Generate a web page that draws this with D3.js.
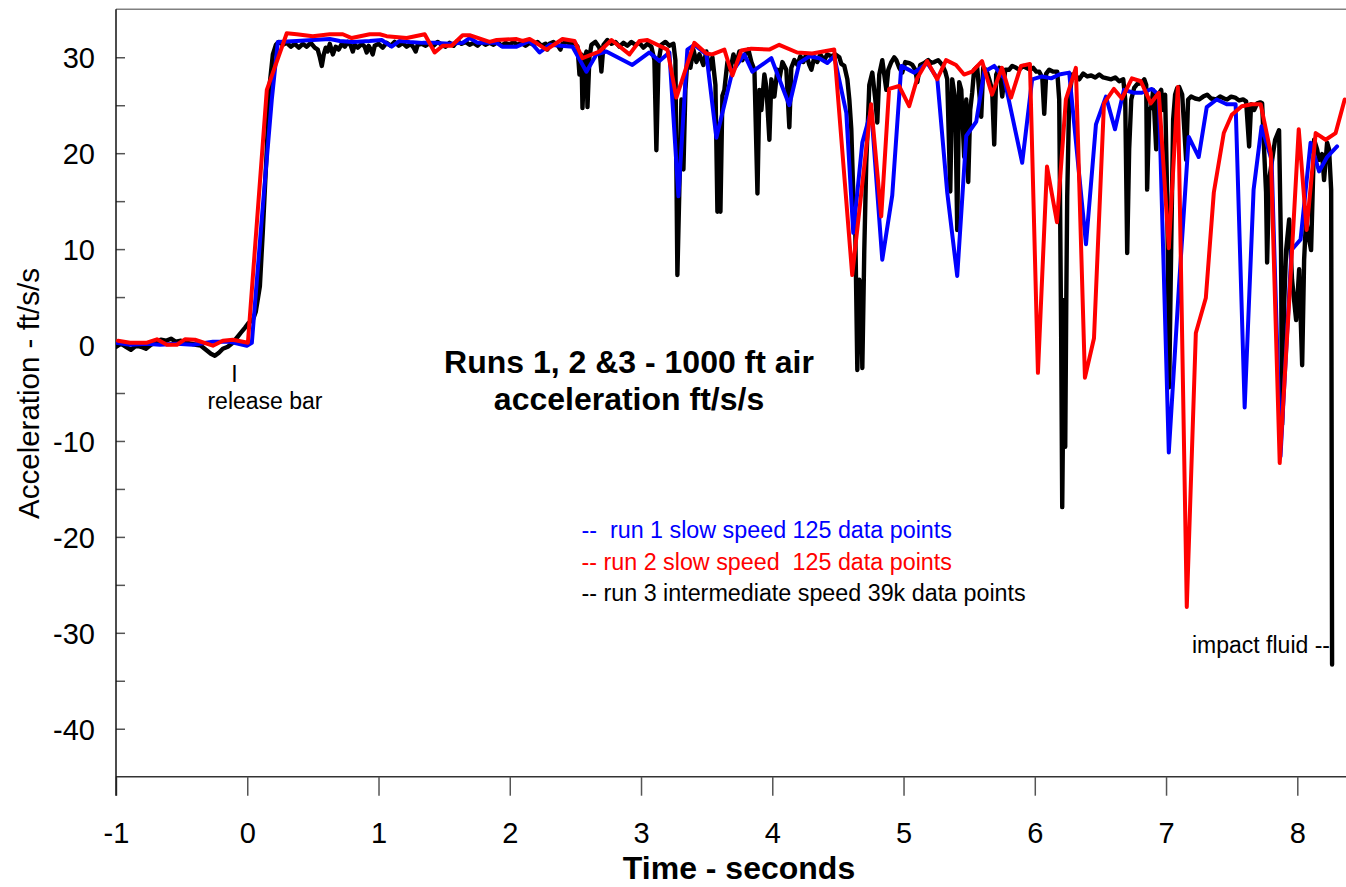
<!DOCTYPE html>
<html><head><meta charset="utf-8">
<script src="https://cdn.jsdelivr.net/npm/d3@7"></script>
<style>
body{margin:0;background:#fff}
svg{display:block}
text{font-family:"Liberation Sans",Arial,Helvetica,sans-serif}
</style>
</head><body><svg id="c" width="1346" height="887"></svg>
<script>
// ---- tick values ----
const xTicks = [-1,0,1,2,3,4,5,6,7,8];
const yTicks = [-40,-30,-20,-10,0,10,20,30];
const yMinorTicks = [-35,-25,-15,-5,5,15,25];

// ---- run 1 (blue) [time s, accel ft/s/s] ----
const run1 = [[-1.000,0.24],[-0.893,0.03],[-0.764,0.14],[-0.665,0.03],[-0.536,0.14],[-0.414,0.03],[-0.262,0.34],[-0.132,0.34],[-0.003,-0.07],[0.035,0.24],[0.118,14.4],[0.187,25.6],[0.233,31.6],[0.377,31.7],[0.499,31.8],[0.629,31.9],[0.705,31.7],[0.804,31.6],[0.933,31.7],[1.024,31.8],[1.100,31.1],[1.161,31.7],[1.237,31.6],[1.336,31.5],[1.443,31.5],[1.541,31.4],[1.640,31.5],[1.694,32.0],[1.755,31.5],[1.899,31.5],[1.945,31.1],[2.052,31.1],[2.151,31.7],[2.227,30.5],[2.303,31.3],[2.478,31.1],[2.584,28.5],[2.660,30.3],[2.736,30.6],[2.934,29.2],[3.064,30.5],[3.140,29.6],[3.216,30.5],[3.285,15.5],[3.353,30.8],[3.406,31.3],[3.498,30.3],[3.574,21.6],[3.696,28.5],[3.787,30.3],[3.848,28.5],[3.993,29.9],[4.130,25.0],[4.206,29.4],[4.282,30.1],[4.358,29.9],[4.419,29.4],[4.472,30.1],[4.564,24.2],[4.617,11.7],[4.686,21.1],[4.754,24.5],[4.838,8.9],[4.914,15.6],[4.983,29.1],[5.082,28.4],[5.181,29.4],[5.257,27.8],[5.333,15.9],[5.409,7.2],[5.478,21.8],[5.554,23.3],[5.615,28.5],[5.691,29.1],[5.767,27.8],[5.904,19.0],[5.980,27.7],[6.056,28.0],[6.125,27.8],[6.186,28.2],[6.262,28.4],[6.390,10.5],[6.466,23.0],[6.542,25.9],[6.611,22.5],[6.679,26.6],[6.755,26.3],[6.816,26.3],[6.892,26.7],[6.945,26.1],[7.021,-11.2],[7.097,5.8],[7.173,21.7],[7.249,19.6],[7.310,24.8],[7.386,25.6],[7.462,25.1],[7.530,25.1],[7.599,-6.5],[7.667,16.2],[7.728,22.8],[7.804,19.3],[7.872,-11.6],[7.956,9.9],[8.025,11.0],[8.101,21.1],[8.166,18.1],[8.227,19.6],[8.303,20.7]];

// ---- run 2 (red) ----
const run2 = [[-0.985,0.45],[-0.893,0.24],[-0.764,0.24],[-0.688,0.6],[-0.612,0.03],[-0.536,0.03],[-0.475,0.6],[-0.399,0.55],[-0.262,-0.07],[-0.186,0.45],[-0.110,0.55],[0.005,0.24],[0.149,26.6],[0.301,32.5],[0.377,32.4],[0.499,32.2],[0.629,32.4],[0.728,32.4],[0.796,32.0],[0.933,32.4],[1.009,32.4],[1.062,32.2],[1.215,32.0],[1.352,32.4],[1.428,30.5],[1.489,31.2],[1.557,31.2],[1.641,32.3],[1.694,32.3],[1.846,31.6],[1.900,31.8],[2.052,31.9],[2.097,31.7],[2.151,31.9],[2.212,31.4],[2.280,30.8],[2.402,31.9],[2.493,31.7],[2.554,29.9],[2.683,30.6],[2.775,31.8],[2.912,30.3],[2.988,31.7],[3.049,31.8],[3.201,30.8],[3.269,25.8],[3.406,31.5],[3.498,30.4],[3.543,30.3],[3.635,30.8],[3.696,28.1],[3.764,30.7],[3.840,30.9],[3.977,30.8],[4.053,31.3],[4.190,30.5],[4.304,30.4],[4.472,30.8],[4.609,7.3],[4.753,25.1],[4.830,13.4],[4.890,26.7],[4.967,27.0],[5.043,24.9],[5.104,27.8],[5.180,29.6],[5.256,27.7],[5.324,29.7],[5.400,29.2],[5.461,28.2],[5.522,28.5],[5.598,29.6],[5.674,26.1],[5.750,28.9],[5.819,25.8],[5.895,29.1],[5.963,29.3],[6.024,-2.9],[6.093,18.6],[6.169,12.8],[6.237,25.6],[6.313,28.9],[6.382,-3.4],[6.451,0.7],[6.527,25.2],[6.603,26.7],[6.664,25.7],[6.740,27.8],[6.808,27.5],[6.884,25.2],[6.945,26.3],[7.021,10.1],[7.090,26.9],[7.158,-27.3],[7.227,1.25],[7.303,4.9],[7.364,15.9],[7.440,22.1],[7.501,24.0],[7.577,24.9],[7.653,25.1],[7.721,25.1],[7.798,20.0],[7.866,-12.3],[7.940,5.0],[8.011,22.5],[8.071,12.0],[8.140,22.1],[8.216,21.4],[8.292,22.1],[8.361,25.6]];

// ---- run 3 (black, dense record, hand-read envelope) ----
const run3 = [[-1.000,-0.18],[-0.962,0.14],[-0.924,-0.18],[-0.886,-0.49],[-0.848,-0.07],[-0.810,-0.18],[-0.772,-0.39],[-0.734,0.03],[-0.696,0.24],[-0.658,0.55],[-0.619,0.45],[-0.581,0.66],[-0.543,0.34],[-0.505,0.45],[-0.467,0.24],[-0.429,0.14],[-0.391,0.03],[-0.353,-0.07],[-0.315,-0.49],[-0.277,-0.91],[-0.247,-1.12],[-0.216,-0.80],[-0.186,-0.39],[-0.148,-0.18],[-0.110,0.24],[-0.079,0.76],[-0.049,1.28],[-0.018,1.80],[0.012,2.33],[0.043,2.64],[0.065,3.47],[0.096,6.1],[0.118,11.7],[0.134,16.2],[0.149,20.4],[0.172,27.3],[0.195,30.3],[0.218,31.3],[0.240,31.6],
[0.271,31.3],[0.301,31.5],[0.332,31.1],[0.362,31.4],[0.393,31.0],[0.423,31.4],[0.453,31.1],[0.484,31.5],[0.514,31.0],[0.537,30.8],[0.553,30.0],[0.568,29.1],[0.583,30.3],[0.598,31.0],[0.613,30.6],[0.629,31.4],[0.652,30.3],[0.674,31.1],[0.697,30.8],[0.720,31.4],[0.743,31.1],[0.766,31.6],[0.789,31.2],[0.804,30.6],[0.819,31.3],[0.842,31.0],[0.872,31.4],[0.895,31.1],[0.910,30.5],[0.925,31.2],[0.941,30.8],[0.956,30.3],[0.971,31.2],[1.001,31.4],[1.032,31.0],[1.062,31.5],[1.093,31.2],[1.123,31.6],[1.154,31.2],[1.184,31.5],[1.214,31.1],[1.245,31.4],[1.268,31.0],[1.283,30.6],[1.298,31.3],[1.328,31.4],[1.359,31.2],[1.389,31.5],[1.420,31.2],[1.450,31.6],[1.481,31.3],[1.511,31.1],[1.541,31.5],[1.572,31.2],[1.602,31.7],[1.633,31.4],[1.663,31.6],[1.694,31.3],[1.724,31.5],[1.755,31.2],[1.785,31.6],[1.815,31.3],[1.846,31.5],[1.876,31.3],[1.907,31.6],[1.937,31.2],[1.968,31.5],[1.998,31.3],[2.029,31.6],[2.059,31.3],[2.089,31.5],[2.120,31.2],[2.150,31.5],[2.181,31.3],[2.211,31.6],[2.242,31.2],[2.272,31.4],[2.287,30.8],[2.302,31.4],[2.333,31.6],[2.363,31.3],[2.386,30.8],[2.402,31.4],[2.432,31.6],[2.462,31.4],[2.493,31.5],[2.516,31.1],[2.531,28.2],[2.546,30.3],[2.554,24.7],[2.569,29.8],[2.584,30.6],[2.592,24.8],[2.607,30.0],[2.622,31.3],[2.653,31.6],[2.683,31.0],[2.698,28.5],[2.714,31.3],[2.744,31.8],[2.775,31.4],[2.805,31.6],[2.835,31.1],[2.866,31.5],[2.896,31.2],[2.927,31.6],[2.957,31.3],[2.988,31.5],[3.018,31.0],[3.049,31.4],[3.079,31.1],[3.102,29.7],[3.117,20.3],[3.133,29.5],[3.155,31.3],[3.186,31.6],[3.216,31.2],[3.247,31.4],[3.262,29.7],[3.277,7.3],[3.292,16.2],[3.308,25.6],[3.323,18.3],[3.338,26.6],[3.353,29.7],[3.376,28.9],[3.399,30.8],[3.422,29.5],[3.445,30.3],[3.475,29.2],[3.498,30.6],[3.521,28.7],[3.544,30.0],[3.567,27.1],[3.582,13.9],[3.590,23.0],[3.605,13.9],[3.620,26.0],[3.635,26.6],[3.658,29.5],[3.681,28.7],[3.704,30.3],[3.726,29.3],[3.749,30.6],[3.772,29.7],[3.795,30.3],[3.818,30.8],[3.841,29.5],[3.864,28.7],[3.887,15.8],[3.902,26.6],[3.917,24.5],[3.940,28.2],[3.955,26.9],[3.978,21.4],[3.993,27.7],[4.016,25.9],[4.039,28.7],[4.054,27.7],[4.077,29.5],[4.107,28.7],[4.130,22.7],[4.145,28.9],[4.168,29.7],[4.191,29.2],[4.214,30.1],[4.237,29.5],[4.259,30.3],[4.282,29.2],[4.298,28.7],[4.320,30.0],[4.343,29.5],[4.366,30.3],[4.396,29.7],[4.419,30.3],[4.450,30.1],[4.480,30.3],[4.511,30.0],[4.526,29.3],[4.549,29.1],[4.572,27.7],[4.587,25.6],[4.602,22.5],[4.617,15.8],[4.633,11.4],[4.648,-2.6],[4.663,6.8],[4.678,5.0],[4.686,-2.4],[4.701,9.9],[4.716,19.0],[4.732,24.5],[4.739,27.1],[4.762,28.4],[4.785,25.6],[4.800,23.2],[4.815,28.2],[4.838,29.7],[4.853,28.2],[4.869,26.6],[4.884,28.7],[4.907,29.5],[4.929,30.0],[4.945,29.7],[4.967,28.9],[4.990,28.4],[5.013,29.5],[5.044,29.4],[5.067,29.2],[5.089,28.7],[5.105,27.4],[5.127,29.2],[5.158,29.4],[5.188,29.7],[5.211,29.4],[5.234,29.5],[5.264,29.7],[5.295,29.2],[5.318,28.5],[5.333,27.7],[5.356,16.0],[5.371,27.7],[5.394,25.6],[5.409,12.0],[5.424,27.4],[5.440,26.6],[5.462,19.6],[5.478,25.6],[5.493,17.0],[5.508,24.5],[5.523,26.3],[5.538,28.7],[5.561,29.0],[5.592,23.8],[5.607,28.9],[5.630,28.7],[5.653,27.7],[5.675,26.6],[5.691,20.9],[5.706,28.2],[5.729,28.9],[5.752,25.9],[5.775,28.7],[5.805,28.7],[5.828,29.1],[5.858,28.9],[5.881,28.7],[5.912,29.1],[5.935,28.9],[5.965,28.7],[5.988,28.9],[6.011,28.5],[6.034,28.5],[6.057,27.9],[6.072,24.1],[6.087,28.3],[6.110,28.7],[6.141,28.5],[6.171,28.5],[6.186,25.6],[6.201,0.8],[6.209,-16.9],[6.224,4.7],[6.232,-10.6],[6.240,4.7],[6.247,15.5],[6.262,25.6],[6.285,28.2],[6.316,28.0],[6.339,27.7],[6.369,28.3],[6.400,28.0],[6.430,28.1],[6.461,27.9],[6.491,28.2],[6.521,27.9],[6.552,27.8],[6.582,27.7],[6.613,27.9],[6.643,27.5],[6.674,27.7],[6.689,25.6],[6.704,9.6],[6.719,20.4],[6.735,25.6],[6.757,26.8],[6.780,27.2],[6.811,27.3],[6.834,27.7],[6.849,27.1],[6.856,16.2],[6.872,24.5],[6.887,24.8],[6.902,26.6],[6.925,20.4],[6.940,26.1],[6.963,26.6],[6.978,24.5],[6.993,26.1],[7.009,15.2],[7.024,-4.4],[7.039,9.9],[7.054,23.5],[7.069,26.1],[7.085,26.8],[7.100,26.9],[7.123,26.1],[7.153,19.3],[7.168,25.6],[7.191,25.9],[7.222,25.7],[7.252,25.6],[7.283,25.9],[7.313,26.1],[7.343,25.7],[7.381,25.6],[7.412,25.9],[7.442,25.7],[7.465,25.6],[7.496,25.9],[7.526,25.8],[7.557,25.5],[7.587,25.6],[7.610,25.4],[7.633,20.7],[7.648,25.1],[7.671,24.5],[7.694,25.2],[7.717,25.3],[7.732,25.2],[7.747,20.4],[7.762,15.9],[7.770,8.6],[7.785,17.2],[7.808,19.3],[7.831,21.4],[7.861,22.4],[7.876,9.9],[7.884,-8.3],[7.899,4.0],[7.915,9.9],[7.938,13.1],[7.960,6.8],[7.991,2.6],[8.014,7.9],[8.037,-2.1],[8.052,8.9],[8.067,13.1],[8.090,11.0],[8.105,9.9],[8.128,21.4],[8.151,20.4],[8.166,19.3],[8.189,19.9],[8.204,17.2],[8.227,21.1],[8.242,20.4],[8.258,16.2],[8.265,-33.3]];

// ---- text ----
const titleLines = ["Runs 1, 2 &3 - 1000 ft air", "acceleration ft/s/s"];
const legendLabels = ["--  run 1 slow speed 125 data points", "-- run 2 slow speed  125 data points", "-- run 3 intermediate speed 39k data points"];
const legendColors = ["#0000ff", "#ff0000", "#000000"];
const xLabel = "Time - seconds";
const yLabel = "Acceleration - ft/s/s";

const svg = d3.select("#c");
const x = d3.scaleLinear().domain([-1, 8]).range([116, 1297.3]);
const y = d3.scaleLinear().domain([-45, 35]).range([776.7, 9.3]);

// clip
svg.append("defs").append("clipPath").attr("id","clip")
  .append("rect").attr("x",116).attr("y",0).attr("width",1346-116).attr("height",776.7);

// top border
svg.append("line").attr("x1",116).attr("x2",1346).attr("y1",9.3).attr("y2",9.3)
  .attr("stroke","#808080").attr("stroke-width",1.5);

// x axis
const gx = svg.append("g").attr("transform","translate(0,776.7)")
  .call(d3.axisBottom(x).tickValues(xTicks).tickSize(19).tickSizeOuter(0).tickFormat(d3.format("d")));
gx.select(".domain").attr("stroke","#333").attr("stroke-width",1.5).attr("d","M116,0H1346");
gx.selectAll(".tick line").attr("stroke","#555").attr("stroke-width",1.5);
gx.selectAll(".tick text").attr("y",66.5).attr("dy",0).attr("font-size",29).attr("fill","#000")
  .style("font-family",'"Liberation Sans",Arial,sans-serif').text(d => d < 0 ? "-" + Math.abs(d) : d);

// y axis
const gy = svg.append("g").attr("transform","translate(116,0)")
  .call(d3.axisLeft(y).tickValues(yTicks).tickSize(-9).tickSizeOuter(0).tickFormat(d => d < 0 ? "-" + Math.abs(d) : d));
gy.select(".domain").remove();
gy.selectAll(".tick line").attr("stroke","#555").attr("stroke-width",1.5);
gy.selectAll(".tick text").attr("x",-21).attr("dy","0.36em").attr("font-size",29).attr("fill","#000")
  .style("font-family",'"Liberation Sans",Arial,sans-serif');
const gym = svg.append("g").attr("transform","translate(116,0)")
  .call(d3.axisLeft(y).tickValues(yMinorTicks).tickSize(-9).tickFormat(""));
gym.select(".domain").remove();
gym.selectAll(".tick line").attr("stroke","#555").attr("stroke-width",1.5);

// left spine
svg.append("line").attr("x1",116).attr("x2",116).attr("y1",9.3).attr("y2",795.7)
  .attr("stroke","#111").attr("stroke-width",1.5);

// series
const line = d3.line().x(d => x(d[0])).y(d => y(d[1]));
const plot = svg.append("g").attr("clip-path","url(#clip)");
[[run3,"#000000",4.4],[run1,"#0000ff",4],[run2,"#ff0000",4]].forEach(([data,color,w]) => {
  plot.append("path").datum(data).attr("d",line).attr("fill","none")
    .attr("stroke",color).attr("stroke-width",w)
    .attr("stroke-linejoin","round").attr("stroke-linecap","round");
});

// title
svg.selectAll("text.title").data(titleLines).enter().append("text").attr("class","title")
  .attr("x",629).attr("y",(d,i) => 373 + i*37).attr("text-anchor","middle")
  .attr("font-size",32).attr("font-weight","bold").attr("fill","#000").text(d => d);

// legend
svg.selectAll("text.leg").data(legendLabels).enter().append("text").attr("class","leg")
  .attr("x",581.5).attr("y",(d,i) => [538,570,601][i]).attr("font-size",23.3)
  .style("white-space","pre").attr("fill",(d,i) => legendColors[i]).text(d => d);

// annotations
svg.append("text").attr("x",234.5).attr("y",382).attr("text-anchor","middle").attr("font-size",23).text("I");
svg.append("text").attr("x",265).attr("y",409).attr("text-anchor","middle").attr("font-size",23).text("release bar");
svg.append("text").attr("x",1330).attr("y",653).attr("text-anchor","end").attr("font-size",23).text("impact fluid --");

// axis labels
svg.append("text").attr("x",739).attr("y",879).attr("text-anchor","middle")
  .attr("font-size",32).attr("font-weight","bold").text(xLabel);
svg.append("text").attr("transform","translate(39,393.5) rotate(-90)").attr("text-anchor","middle")
  .attr("font-size",29.5).text(yLabel);
</script>
</body></html>
